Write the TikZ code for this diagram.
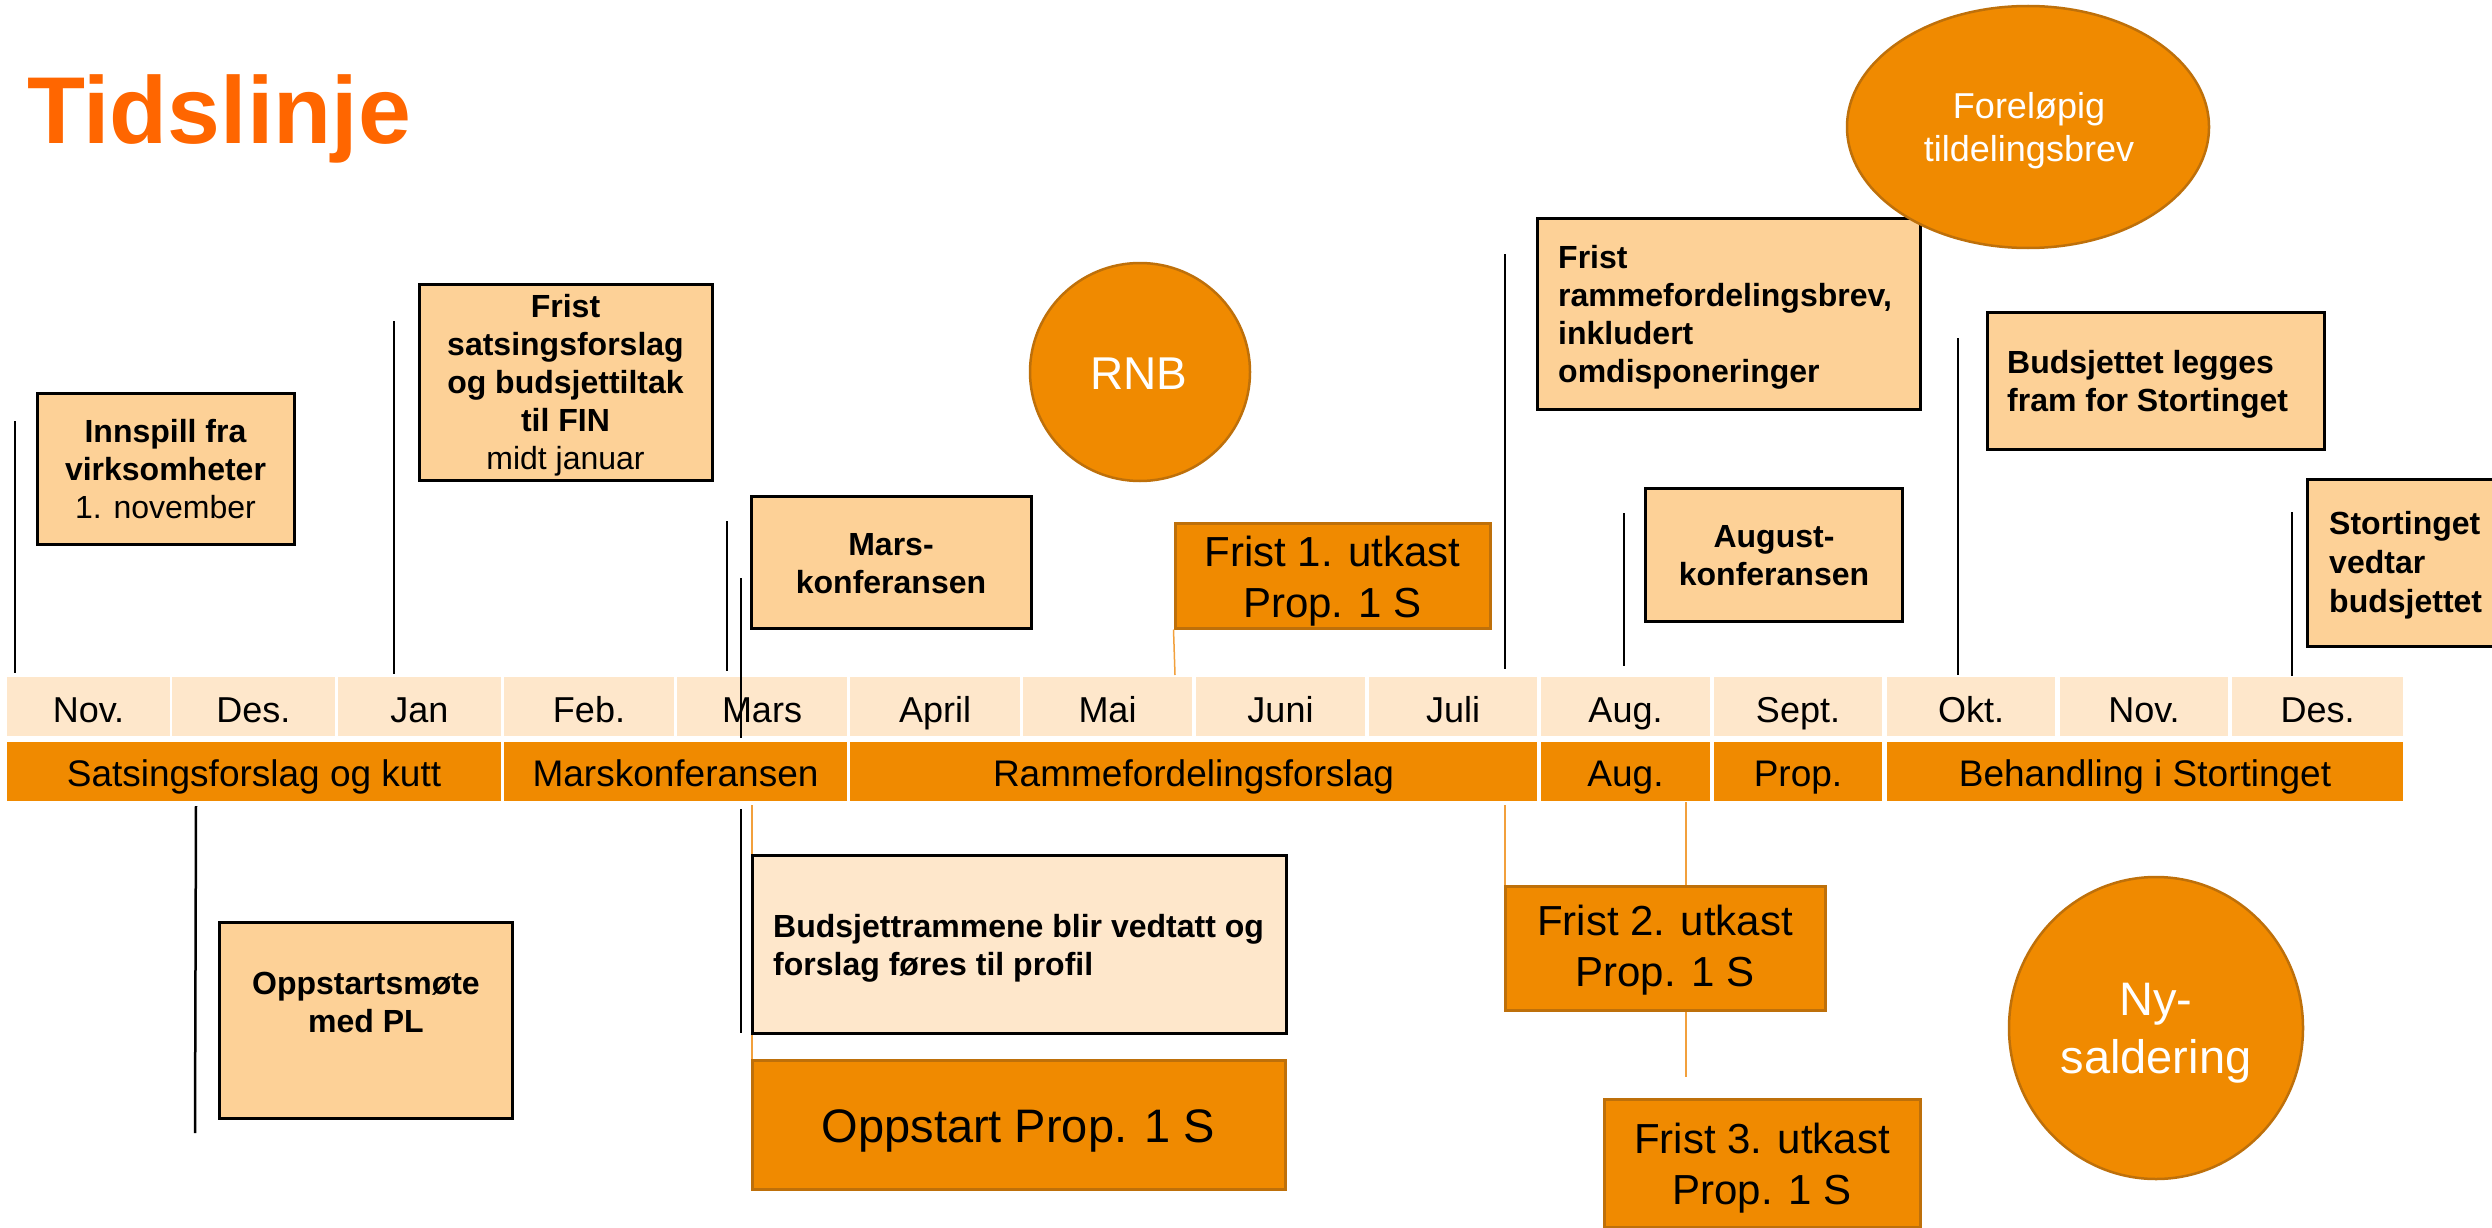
\documentclass[tikz,border=0pt]{standalone}
\usepackage{fontspec}
\setmainfont{Liberation Sans}
\usetikzlibrary{shapes.geometric}
\definecolor{orangeF}{RGB}{240,138,0}
\definecolor{orangeB}{RGB}{190,112,10}
\definecolor{peachL}{RGB}{254,231,203}
\definecolor{boxF}{RGB}{253,209,151}
\definecolor{titleO}{RGB}{255,102,0}
\definecolor{thinO}{RGB}{242,160,60}
\begin{document}
\begin{tikzpicture}[x=1pt,y=-1pt,
  mcell/.style={rectangle, fill=peachL, inner sep=0, minimum height=59, text height=31, text depth=0, font=\fontsize{36}{43}\selectfont},
  pcell/.style={rectangle, fill=orangeF, inner sep=0, minimum height=59, text height=29, text depth=0, font=\fontsize{37}{44}\selectfont},
  lbox/.style={rectangle, draw=black, line width=3, fill=boxF, inner sep=0},
  pbox/.style={rectangle, draw=black, line width=3, fill=peachL, inner sep=0},
  obox/.style={rectangle, draw=orangeB, line width=3, fill=orangeF, inner sep=0},
  oval/.style={ellipse, draw=orangeB, line width=2.5, fill=orangeF, inner sep=0},
  btxt/.style={inner sep=0, anchor=base, align=center, font=\fontsize{32}{38}\selectfont\bfseries},
  bltxt/.style={inner sep=0, anchor=base west, align=left, font=\fontsize{32}{38}\selectfont\bfseries},
  bigtxt/.style={inner sep=0, anchor=base, align=center, font=\fontsize{42}{51}\selectfont},
  vline/.style={line width=2.5},
  oline/.style={draw=thinO, line width=1.5}
]
\useasboundingbox[fill=white] (0,0) rectangle (2492,1228);

% title
\node[inner sep=0, anchor=base west, text=titleO, font=\fontsize{95}{110}\selectfont\bfseries] (title) at (27,144) {Tidslinje};

% month row
\node[mcell, minimum width=163] (m1) at (88.5,706.5) {Nov.};
\node[mcell, minimum width=163] (m2) at (253.5,706.5) {Des.};
\node[mcell, minimum width=163] (m3) at (419.5,706.5) {Jan};
\node[mcell, minimum width=170] (m4) at (589,706.5) {Feb.};
\node[mcell, minimum width=170] (m5) at (762,706.5) {Mars};
\node[mcell, minimum width=170] (m6) at (935,706.5) {April};
\node[mcell, minimum width=169] (m7) at (1107.5,706.5) {Mai};
\node[mcell, minimum width=169] (m8) at (1280.5,706.5) {Juni};
\node[mcell, minimum width=168] (m9) at (1453,706.5) {Juli};
\node[mcell, minimum width=169] (m10) at (1625.5,706.5) {Aug.};
\node[mcell, minimum width=168] (m11) at (1798,706.5) {Sept.};
\node[mcell, minimum width=168] (m12) at (1971,706.5) {Okt.};
\node[mcell, minimum width=168] (m13) at (2144,706.5) {Nov.};
\node[mcell, minimum width=171] (m14) at (2317.5,706.5) {Des.};

% phase row
\node[pcell, minimum width=494] (p1) at (254,771.5) {Satsingsforslag og kutt};
\node[pcell, minimum width=343] (p2) at (675.5,771.5) {Marskonferansen};
\node[pcell, minimum width=687] (p3) at (1193.5,771.5) {Rammefordelingsforslag};
\node[pcell, minimum width=169] (p4) at (1625.5,771.5) {Aug.};
\node[pcell, minimum width=168] (p5) at (1798,771.5) {Prop.};
\node[pcell, minimum width=516] (p6) at (2145,771.5) {Behandling i Stortinget};

% coordinates for line ends
\coordinate (a1) at (15,421);   \coordinate (a2) at (15,673);
\coordinate (b1) at (394,321);  \coordinate (b2) at (394,674);
\coordinate (c1) at (727,521);  \coordinate (c2) at (727,671);
\coordinate (d1) at (741,578);  \coordinate (d2) at (741,738);
\coordinate (e1) at (741,809);  \coordinate (e2) at (741,1033);
\coordinate (f1) at (196,806);  \coordinate (f2) at (195,1133);
\coordinate (g1) at (1505,254); \coordinate (g2) at (1505,669);
\coordinate (h1) at (1624,513); \coordinate (h2) at (1624,666);
\coordinate (i1) at (1958,338); \coordinate (i2) at (1958,675);
\coordinate (j1) at (2292,512); \coordinate (j2) at (2292,676);
\coordinate (o1) at (1175,675);
\coordinate (o2) at (752,805);
\coordinate (o3) at (1505,805);
\coordinate (o4a) at (1686,802); \coordinate (o4b) at (1686,886);
\coordinate (o5a) at (1686,1010); \coordinate (o5b) at (1686,1077);

% black timeline markers
\draw[vline] (a1) -- (a2);
\draw[vline] (b1) -- (b2);
\draw[vline] (c1) -- (c2);
\draw[vline] (d1) -- (d2);
\draw[vline] (e1) -- (e2);
\draw[vline] (f1) -- (f2);
\draw[vline] (g1) -- (g2);
\draw[vline] (h1) -- (h2);
\draw[vline] (i1) -- (i2);
\draw[vline] (j1) -- (j2);

% boxes above
\node[lbox, minimum width=257, minimum height=151] (innspill) at (165.5,468.5) {};
\node[btxt] (innspillT) at (165.5,518) {Innspill fra\\virksomheter\\\mdseries 1. november};

\node[lbox, minimum width=293, minimum height=196] (fristsats) at (565.5,382) {};
\node[btxt] (fristsatsT) at (565.5,469) {Frist\\satsingsforslag\\og budsjettiltak\\til FIN\\\mdseries midt januar};

\node[lbox, minimum width=280, minimum height=132] (mars) at (891,562) {};
\node[btxt] (marsT) at (891,593) {Mars-\\konferansen};

\node[obox, minimum width=315, minimum height=105] (frist1) at (1332.5,575.5) {};
\node[bigtxt] (frist1T) at (1332.5,617) {Frist 1. utkast\\Prop. 1 S};
\draw[oline] (frist1.south west) -- (o1);

\node[lbox, minimum width=383, minimum height=191] (rammebrev) at (1728.5,313.5) {};
\node[bltxt] (rammebrevT) at (1558,382) {Frist\\rammefordelingsbrev,\\inkludert\\omdisponeringer};

\node[oval, minimum width=362, minimum height=242] (forelopig) at (2028,127) {};
\node[inner sep=0, anchor=base, align=center, text=white, font=\fontsize{36}{43}\selectfont] (forelopigT) at (2029,161) {Foreløpig\\tildelingsbrev};

\node[oval, minimum width=220, minimum height=218] (rnb) at (1140,372) {};
\node[inner sep=0, anchor=base, text=white, font=\fontsize{46}{55}\selectfont] (rnbT) at (1139,389) {RNB};

\node[lbox, minimum width=257, minimum height=133] (august) at (1773.5,554.5) {};
\node[btxt] (augustT) at (1774,585) {August-\\konferansen};

\node[lbox, minimum width=337, minimum height=137] (legges) at (2155.5,380.5) {};
\node[bltxt] (leggesT) at (2007,411) {Budsjettet legges\\fram for Stortinget};

\node[lbox, minimum width=200, minimum height=167] (vedtar) at (2407,562.5) {};
\node[bltxt, font=\fontsize{32}{39}\selectfont\bfseries] (vedtarT) at (2329,612) {Stortinget\\vedtar\\budsjettet};

% below
\draw[oline] (o2) -- (o2 |- 0,1060);
\node[lbox, minimum width=293, minimum height=196] (oppmote) at (365.5,1020) {};
\node[btxt] (oppmoteT) at (366,1032) {Oppstartsmøte\\med PL};

\node[pbox, minimum width=534, minimum height=178] (rammer) at (1019,944) {};
\node[bltxt] (rammerT) at (773,975) {Budsjettrammene blir vedtatt og\\forslag føres til profil};

\node[obox, minimum width=533, minimum height=129] (oppstart) at (1018.5,1124.5) {};
\node[inner sep=0, anchor=base, font=\fontsize{47}{56}\selectfont] (oppstartT) at (1018.5,1142) {Oppstart Prop. 1 S};

\draw[oline] (o3) -- (1505,886);
\draw[oline] (o4a) -- (o4b);
\draw[oline] (o5a) -- (o5b);

\node[obox, minimum width=320, minimum height=124] (frist2) at (1665,948) {};
\node[bigtxt] (frist2T) at (1665,986) {Frist 2. utkast\\Prop. 1 S};

\node[obox, minimum width=316, minimum height=128] (frist3) at (1762,1163) {};
\node[bigtxt] (frist3T) at (1762,1204) {Frist 3. utkast\\Prop. 1 S};

\node[oval, minimum width=294, minimum height=302] (nysald) at (2156,1028) {};
\node[inner sep=0, anchor=base, align=center, text=white, font=\fontsize{47}{58}\selectfont] (nysaldT) at (2156,1073) {Ny-\\saldering};
\end{tikzpicture}
\end{document}
